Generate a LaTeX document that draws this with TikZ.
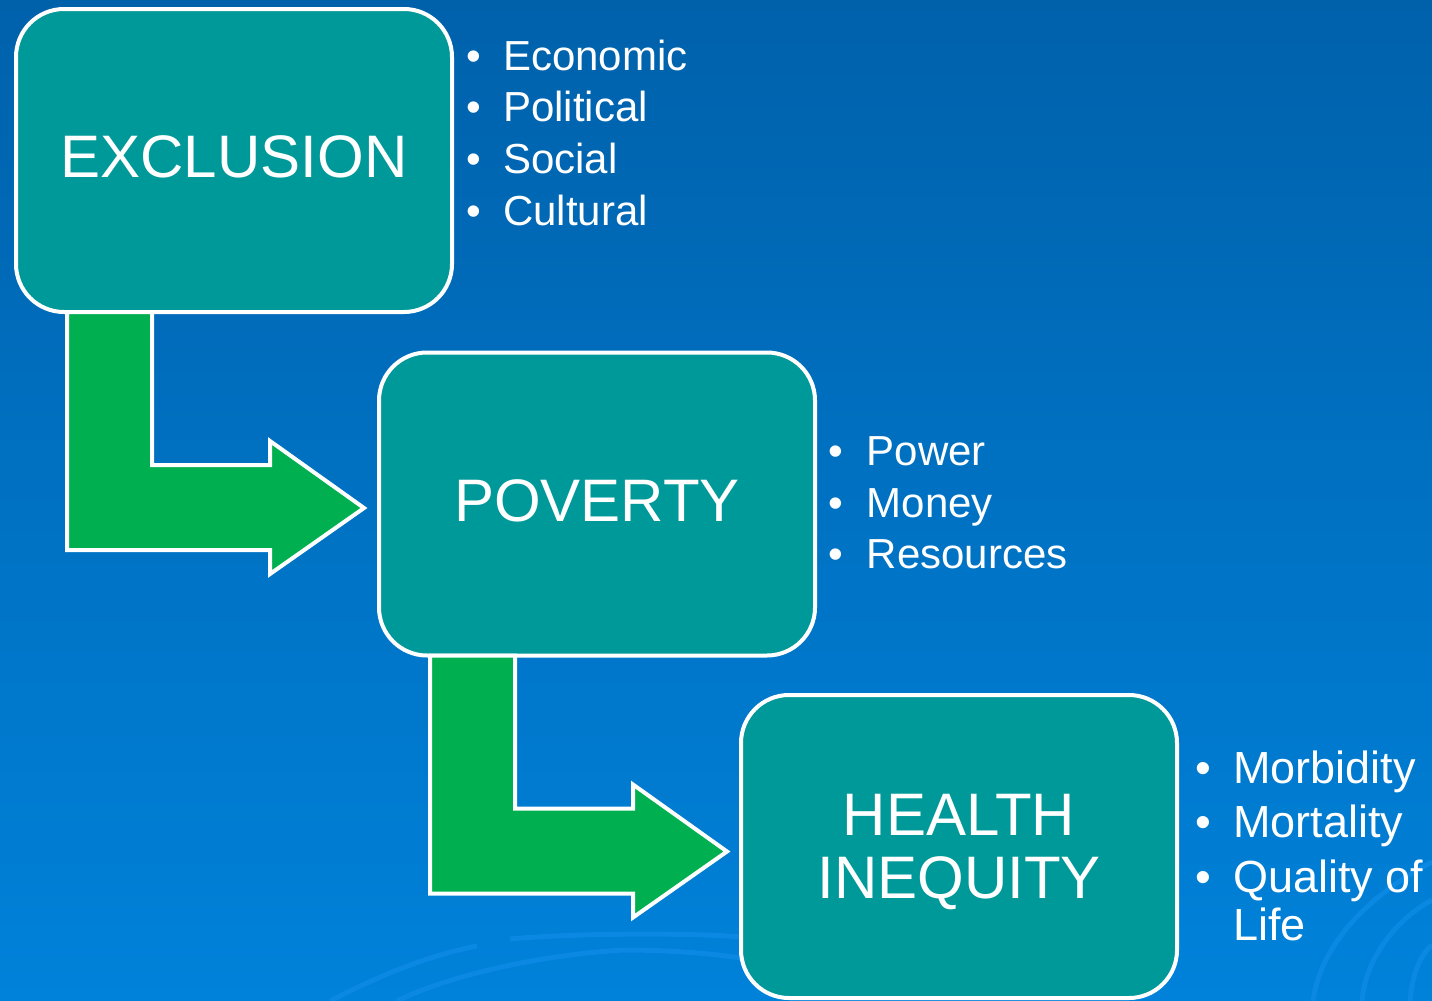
\documentclass[tikz,border=0pt]{standalone}
\usepackage{fontspec}
\setmainfont{Liberation Sans}
\definecolor{TealBox}{HTML}{009999}
\definecolor{GreenFlow}{HTML}{00B050}
\definecolor{BlueTop}{HTML}{0061AB}
\definecolor{BlueMid}{HTML}{0066B2}
\definecolor{BlueBottom}{HTML}{0082DA}
\definecolor{BlueSwirl}{HTML}{0A88E2}
\newcommand{\itembullet}[1]{\makebox[#1][l]{•}}
\tikzset{
	stage/.style={draw=white, line width=4pt, fill=TealBox, rounded corners=48pt,
		minimum width=436pt, minimum height=303pt, outer sep=0pt, align=center,
		text=white, font=\fontsize{60}{63}\selectfont},
	flow/.style={draw=white, line width=4pt, fill=GreenFlow, line join=miter},
	item/.style={text=white, anchor=base west, inner sep=0pt, font=\fontsize{42}{52}\selectfont},
	swirl/.style={BlueSwirl, line width=5pt}
}
\begin{document}
\begin{tikzpicture}[x=1pt, y=-1pt]
	\useasboundingbox (0,0) rectangle (1432,1001);
	% fond
	\shade[top color=BlueTop, middle color=BlueMid, bottom color=BlueBottom] (0,0) rectangle (1432,1001);
	\begin{scope}[swirl]
		\draw (330,1001) .. controls (380,975) and (430,955) .. (477,946);
		\draw (397,1001) .. controls (450,975) and (540,955) .. (623,950) .. controls (680,950) and (720,955) .. (742,958);
		\draw (510,939) .. controls (560,934) and (680,932) .. (742,937);
		\draw (1313,1001) .. controls (1320,950) and (1360,900) .. (1432,862);
		\draw (1362,1001) .. controls (1365,960) and (1395,920) .. (1432,900);
		\draw (1410,1001) .. controls (1412,975) and (1420,955) .. (1432,945);
	\end{scope}
	%
	\node[stage, text depth=7pt] (excl) at (234,160.5) {EXCLUSION};
	\node[stage, text depth=7pt] (pov) at (597,504) {POVERTY};
	\node[stage, text height=116pt] (heq) at (959,846.5) {HEALTH\\INEQUITY};
	%
	\foreach \s in {excl,pov}
		\draw[flow, shift={(\s.south west)}] (51,0) -- (136,0) -- (136,153) -- (254,153) -- (254,129) -- (348,196) -- (254,262) -- (254,238) -- (51,238) -- cycle;
	%
	\foreach \t [count=\i] in {Economic,Political,Social,Cultural}
		\node[item] (excl-\i) at (466.5,{18.3+51.7*\i}) {\itembullet{36.5pt}\t};
	\foreach \t [count=\i] in {Power,Money,Resources}
		\node[item] (pov-\i) at (828.3,{414.3+51.5*\i}) {\itembullet{38.4pt}\t};
	\foreach \t [count=\i] in {Morbidity,Mortality}
		\node[item, font=\fontsize{45}{48}\selectfont] (heq-\i) at (1195,{728.5+54.5*\i}) {\itembullet{38pt}\t};
	\node[item, font=\fontsize{45}{48}\selectfont, align=left] (heq-3) at (1195,940) {\itembullet{38pt}Quality of\\\hspace*{38pt}Life};
\end{tikzpicture}
\end{document}
